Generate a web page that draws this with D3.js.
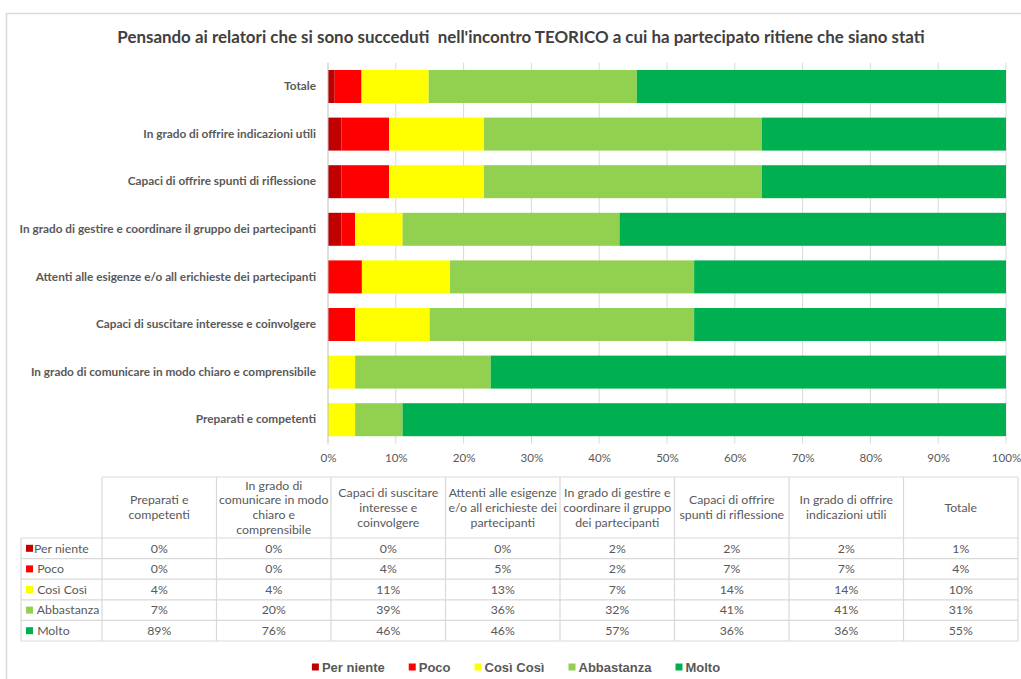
<!DOCTYPE html>
<html>
<head>
<meta charset="utf-8">
<script src="https://cdn.jsdelivr.net/npm/d3@7"></script>
<style>
  html, body { margin: 0; padding: 0; background: #fff; }
  svg { display: block; }
</style>
</head>
<body>
<svg id="chart" width="1021" height="679"></svg>
<script>
// Survey items, in table order (the bar chart lists them bottom-up)
const categories = [
  "Preparati e competenti",
  "In grado di comunicare in modo chiaro e comprensibile",
  "Capaci di suscitare interesse e coinvolgere",
  "Attenti alle esigenze e/o all erichieste dei partecipanti",
  "In grado di gestire e coordinare il gruppo dei partecipanti",
  "Capaci di offrire spunti di riflessione",
  "In grado di offrire indicazioni utili",
  "Totale"
];
// Column headers of the data table, wrapped as they appear
const headerLines = [
  ["Preparati e", "competenti"],
  ["In grado di", "comunicare in modo", "chiaro e", "comprensibile"],
  ["Capaci di suscitare", "interesse e", "coinvolgere"],
  ["Attenti alle esigenze", "e/o all erichieste dei", "partecipanti"],
  ["In grado di gestire e", "coordinare il gruppo", "dei partecipanti"],
  ["Capaci di offrire", "spunti di riflessione"],
  ["In grado di offrire", "indicazioni utili"],
  ["Totale"]
];
// Answer levels
const levels = ["Per niente", "Poco", "Così Così", "Abbastanza", "Molto"];
const levelLabels = ["Per niente", " Poco", " Così Così", " Abbastanza", " Molto"];
const levelColors = ["#C00000", "#FF0000", "#FFFF00", "#92D050", "#00B050"];
// Percentages per item (same order as categories)
const perNiente  = [0, 0, 0, 0, 2, 2, 2, 1];
const poco       = [0, 0, 4, 5, 2, 7, 7, 4];
const cosiCosi   = [4, 4, 11, 13, 7, 14, 14, 10];
const abbastanza = [7, 20, 39, 36, 32, 41, 41, 31];
const molto      = [89, 76, 46, 46, 57, 36, 36, 55];
const xTicks = [0, 0.1, 0.2, 0.3, 0.4, 0.5, 0.6, 0.7, 0.8, 0.9, 1];
const title = "Pensando ai relatori che si sono succeduti  nell'incontro TEORICO a cui ha partecipato ritiene che siano stati";

const seriesValues = [perNiente, poco, cosiCosi, abbastanza, molto];
const rows = categories.map((c, i) => {
  const r = { category: c };
  levels.forEach((l, k) => { r[l] = seriesValues[k][i]; });
  return r;
});

const FONT = "Lato, 'Open Sans', sans-serif";
const GREY = "#595959";
const LINE = "#D9D9D9";
const TABLE_FS = 12.3;
const TICK_FS = 11.6;

const svg = d3.select("#chart");

// outer chart frame
svg.append("rect")
  .attr("x", 6.5).attr("y", 13.5)
  .attr("width", 1040).attr("height", 700)
  .attr("fill", "#fff").attr("stroke", LINE).attr("stroke-width", 1.5);

// title, sized to span its line
const titleText = svg.append("text")
  .attr("x", 521).attr("y", 43)
  .attr("text-anchor", "middle")
  .attr("font-family", FONT).attr("font-weight", "bold")
  .attr("font-size", 16).attr("fill", "#404040")
  .attr("xml:space", "preserve")
  .text(title);
{
  const w = titleText.node().getComputedTextLength();
  titleText.attr("font-size", 16 * 808 / w);
}

// scales
const x = d3.scaleLinear().domain([0, 1]).range([328, 1006]);
const y = d3.scaleBand()
  .domain(categories.slice().reverse())
  .range([62.7, 443.5])
  .paddingInner(0.307).paddingOuter(0.1535);

// vertical gridlines
const plot = svg.append("g");
plot.selectAll("line.grid")
  .data(xTicks.slice(1))
  .join("line")
  .attr("class", "grid")
  .attr("x1", d => x(d)).attr("x2", d => x(d))
  .attr("y1", 62.7).attr("y2", 443.5)
  .attr("stroke", LINE).attr("stroke-width", 1);

// stacked, normalised bars
const stack = d3.stack().keys(levels).offset(d3.stackOffsetExpand);
const stacked = stack(rows);
plot.selectAll("g.series")
  .data(stacked)
  .join("g")
  .attr("class", "series")
  .attr("fill", (d, i) => levelColors[i])
  .selectAll("rect")
  .data(d => d)
  .join("rect")
  .attr("x", d => x(d[0]))
  .attr("width", d => x(d[1]) - x(d[0]))
  .attr("y", d => y(d.data.category))
  .attr("height", y.bandwidth());

// category axis line
plot.append("line")
  .attr("x1", x(0)).attr("x2", x(0))
  .attr("y1", 62.7).attr("y2", 443.5)
  .attr("stroke", "#BFBFBF").attr("stroke-width", 1);

// category labels
const yAxis = d3.axisLeft(y).tickSize(0).tickPadding(12);
const yAxisG = svg.append("g")
  .attr("transform", `translate(${x(0)},0)`)
  .call(yAxis);
yAxisG.select(".domain").remove();
yAxisG.selectAll("text")
  .attr("font-family", FONT).attr("font-weight", "bold")
  .attr("font-size", 11.8).attr("fill", GREY);

// percentage axis labels
const xAxis = d3.axisBottom(x).tickValues(xTicks).tickFormat(d3.format(".0%")).tickSize(0).tickPadding(0);
const xAxisG = svg.append("g")
  .attr("transform", `translate(0,454)`)
  .call(xAxis);
xAxisG.select(".domain").remove();
xAxisG.selectAll("text")
  .attr("font-family", FONT).attr("font-size", TICK_FS).attr("fill", GREY);

// data table
const colX = d3.scaleBand().domain(categories).range([102, 1018]);
const headerTop = 477, headerBottom = 538, rowH = 20.6;
const tableBottom = headerBottom + rowH * levels.length;
const table = svg.append("g");

// horizontal rules
const hLines = [{ y: headerTop, x1: colX.range()[0] }, { y: headerBottom, x1: 21 }]
  .concat(levels.map((l, i) => ({ y: headerBottom + rowH * (i + 1), x1: 21 })));
table.selectAll("line.h")
  .data(hLines)
  .join("line")
  .attr("x1", d => d.x1).attr("x2", 1018)
  .attr("y1", d => d.y).attr("y2", d => d.y)
  .attr("stroke", LINE).attr("stroke-width", 1.2);

// vertical rules
const vLines = [{ x: 21, y1: headerBottom }]
  .concat(categories.map(c => ({ x: colX(c), y1: headerTop })))
  .concat([{ x: 1018, y1: headerTop }]);
table.selectAll("line.v")
  .data(vLines)
  .join("line")
  .attr("x1", d => d.x).attr("x2", d => d.x)
  .attr("y1", d => d.y1).attr("y2", tableBottom)
  .attr("stroke", LINE).attr("stroke-width", 1.2);

// header text
const lineH = 14.8;
table.selectAll("text.head")
  .data(categories)
  .join("text")
  .attr("class", "head")
  .attr("font-family", FONT).attr("font-size", TABLE_FS).attr("fill", GREY)
  .attr("text-anchor", "middle")
  .each(function (c, i) {
    const lines = headerLines[i];
    const cx = colX(c) + colX.bandwidth() / 2;
    const cy = (headerTop + headerBottom) / 2;
    d3.select(this).selectAll("tspan")
      .data(lines)
      .join("tspan")
      .attr("x", cx)
      .attr("y", (d, k) => cy + (k - (lines.length - 1) / 2) * lineH)
      .attr("dy", "0.35em")
      .text(d => d);
  });

// row labels with colour keys
const rowG = table.selectAll("g.row")
  .data(levels)
  .join("g")
  .attr("class", "row")
  .attr("transform", (d, i) => `translate(0,${headerBottom + rowH * i + rowH / 2})`);
rowG.append("rect")
  .attr("x", 26).attr("y", -3.5).attr("width", 7).attr("height", 7)
  .attr("fill", (d, i) => levelColors[i]);
rowG.append("text")
  .attr("x", 34).attr("dy", "0.35em")
  .attr("xml:space", "preserve")
  .attr("font-family", FONT).attr("font-size", TABLE_FS).attr("fill", GREY)
  .text((d, i) => levelLabels[i]);

// cell values
rowG.each(function (l, k) {
  d3.select(this).selectAll("text.val")
    .data(categories)
    .join("text")
    .attr("class", "val")
    .attr("x", c => colX(c) + colX.bandwidth() / 2)
    .attr("dy", "0.35em")
    .attr("text-anchor", "middle")
    .attr("font-family", FONT).attr("font-size", TABLE_FS).attr("fill", GREY)
    .text((c, i) => seriesValues[k][i] + "%");
});

// legend
const legend = svg.append("g").attr("transform", "translate(0,667)");
const items = legend.selectAll("g.item")
  .data(levels)
  .join("g")
  .attr("class", "item");
items.append("rect")
  .attr("y", -3.5).attr("width", 7).attr("height", 7)
  .attr("fill", (d, i) => levelColors[i]);
items.append("text")
  .attr("x", 10).attr("dy", "0.35em")
  .attr("font-family", "'Liberation Sans', Arial, sans-serif")
  .attr("font-weight", "bold").attr("font-size", 13).attr("fill", GREY)
  .text(d => d);
{
  const gap = 24;
  const widths = [];
  items.each(function () { widths.push(10 + d3.select(this).select("text").node().getComputedTextLength()); });
  const total = d3.sum(widths) + gap * (widths.length - 1);
  let cx = 516 - total / 2;
  items.attr("transform", (d, i) => {
    const t = `translate(${cx},0)`;
    cx += widths[i] + gap;
    return t;
  });
}
</script>
</body>
</html>
